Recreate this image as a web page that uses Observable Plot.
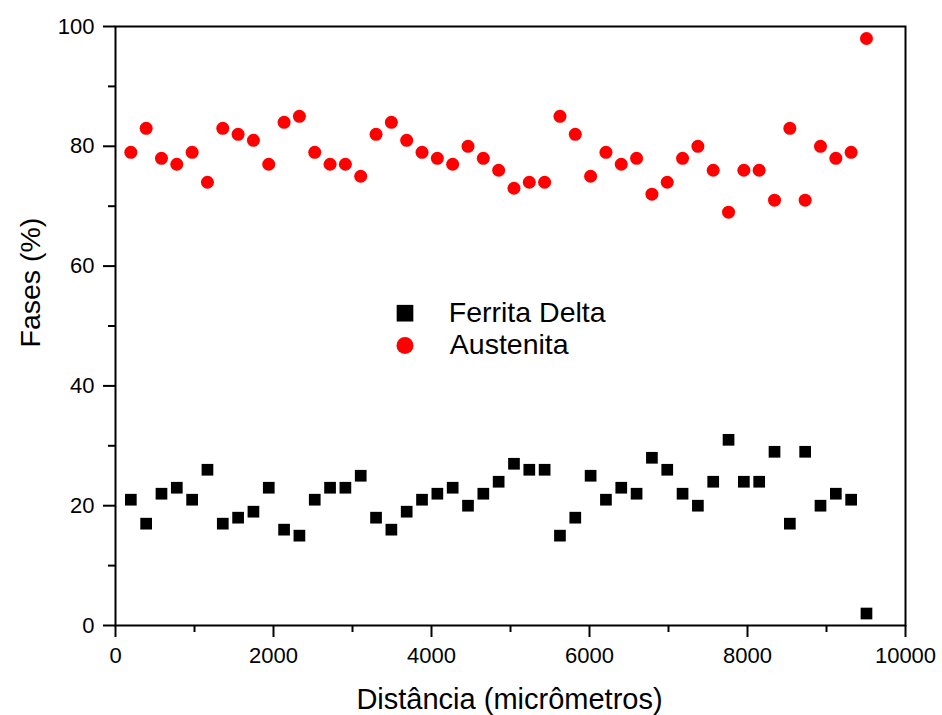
<!DOCTYPE html>
<html>
<head>
<meta charset="utf-8">
<script src="https://cdn.jsdelivr.net/npm/d3@7"></script>
<script src="https://cdn.jsdelivr.net/npm/@observablehq/plot@0.6"></script>
<style>
  html, body { margin: 0; padding: 0; background: #fff; }
  #chart { width: 942px; height: 715px; }
</style>
</head>
<body>
<div id="chart"></div>
<script>
const distancia = [194, 388, 582, 776, 970, 1164, 1358, 1552, 1746, 1940, 2134, 2328, 2522, 2716, 2910, 3104, 3298, 3492, 3686, 3880, 4074, 4268, 4462, 4656, 4850, 5044, 5238, 5432, 5626, 5820, 6014, 6208, 6402, 6596, 6790, 6984, 7178, 7372, 7566, 7760, 7954, 8148, 8342, 8536, 8730, 8924, 9118, 9312, 9506];
const ferritaDelta = [21, 17, 22, 23, 21, 26, 17, 18, 19, 23, 16, 15, 21, 23, 23, 25, 18, 16, 19, 21, 22, 23, 20, 22, 24, 27, 26, 26, 15, 18, 25, 21, 23, 22, 28, 26, 22, 20, 24, 31, 24, 24, 29, 17, 29, 20, 22, 21, 2];
const austenita = [79, 83, 78, 77, 79, 74, 83, 82, 81, 77, 84, 85, 79, 77, 77, 75, 82, 84, 81, 79, 78, 77, 80, 78, 76, 73, 74, 74, 85, 82, 75, 79, 77, 78, 72, 74, 78, 80, 76, 69, 76, 76, 71, 83, 71, 80, 78, 79, 98];
const seriesNames = ["Ferrita Delta", "Austenita"];
const xMajorTicks = [0, 2000, 4000, 6000, 8000, 10000];
const xMinorTicks = [1000, 3000, 5000, 7000, 9000];
const yMajorTicks = [0, 20, 40, 60, 80, 100];
const yMinorTicks = [10, 30, 50, 70, 90];
const xTitle = "Distância (micrômetros)";
const yTitle = "Fases (%)";

const ferritaData = distancia.map((d, i) => ({x: d, y: ferritaDelta[i]}));
const austenitaData = distancia.map((d, i) => ({x: d, y: austenita[i]}));

const chart = Plot.plot({
  width: 942,
  height: 715,
  marginLeft: 115,
  marginRight: 37,
  marginTop: 26,
  marginBottom: 90,
  x: {domain: [0, 10000]},
  y: {domain: [0, 100]},
  style: {fontFamily: "'Liberation Sans', Arial, sans-serif", fontSize: "22px", color: "black", background: "white"},
  marks: [
    Plot.axisX(xMajorTicks, {tickSize: 12, tickPadding: 10, strokeWidth: 2, label: null, tickFormat: d3.format("d")}),
    Plot.axisX(xMinorTicks, {tickSize: 7, strokeWidth: 2, label: null, tickFormat: () => ""}),
    Plot.axisY(yMajorTicks, {tickSize: 12, tickPadding: 9, strokeWidth: 2, label: null, tickFormat: d3.format("d")}),
    Plot.axisY(yMinorTicks, {tickSize: 7, strokeWidth: 2, label: null, tickFormat: () => ""}),
    Plot.frame({stroke: "black", strokeWidth: 2}),
    Plot.dot(ferritaData, {x: "x", y: "y", symbol: "square", r: 6.6, fill: "black", stroke: "none"}),
    Plot.dot(austenitaData, {x: "x", y: "y", symbol: "circle", r: 6.5, fill: "#ff0000", stroke: "none"}),
    // legend
    Plot.dot([seriesNames[0]], {frameAnchor: "top-left", dx: 289.5, dy: 286.7, symbol: "square", r: 9.4, fill: "black", stroke: "none"}),
    Plot.dot([seriesNames[1]], {frameAnchor: "top-left", dx: 289.5, dy: 319, symbol: "circle", r: 8.5, fill: "#ff0000", stroke: "none"}),
    Plot.text([seriesNames[0]], {text: d => d, frameAnchor: "top-left", dx: 333.3, dy: 295.7, textAnchor: "start", lineAnchor: "bottom", fontSize: 28.5, fill: "black"}),
    Plot.text([seriesNames[1]], {text: d => d, frameAnchor: "top-left", dx: 334.3, dy: 327.3, textAnchor: "start", lineAnchor: "bottom", fontSize: 28.5, fill: "black"}),
    // axis titles
    Plot.text([xTitle], {text: d => d, frameAnchor: "bottom", dx: -1, dy: 83, lineAnchor: "bottom", fontSize: 29, fill: "black"}),
    Plot.text([yTitle], {text: d => d, frameAnchor: "left", dx: -85, dy: 21.5, rotate: -90, lineAnchor: "middle", fontSize: 28.5, fill: "black"})
  ]
});
document.getElementById("chart").appendChild(chart);
</script>
</body>
</html>
